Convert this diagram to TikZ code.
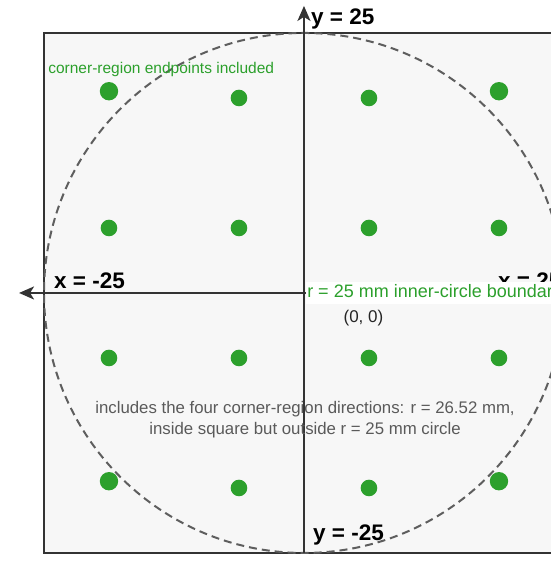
\documentclass[tikz,border=0pt]{standalone}
\usepackage{fontspec}
\setmainfont{Liberation Sans}
\usetikzlibrary{arrows.meta}
\definecolor{ptgreen}{HTML}{2CA02C}
\definecolor{boxfill}{HTML}{F7F7F7}
\definecolor{boxline}{HTML}{333333}
\definecolor{ringgray}{HTML}{5E5E5E}
\definecolor{notegray}{HTML}{5A5A5A}

\begin{document}
\begin{tikzpicture}[x=10.4pt,y=10.4pt,
  endpt/.style={circle,fill=ptgreen,inner sep=0pt,minimum size=16.6pt},
  cornerpt/.style={endpt,minimum size=18.4pt},
  axislabel/.style={anchor=base west,inner sep=0pt,font=\fontsize{22.5}{26}\selectfont\bfseries},
  axisline/.style={boxline,line width=2.2pt,-{Stealth[length=15pt,width=13pt,inset=4pt]}}]
  \useasboundingbox (-29.23,-26.35) rectangle (23.75,28.17);
  \clip (-29.23,-26.35) rectangle (23.75,28.17);

  \draw[boxline,fill=boxfill,line width=2.2pt] (-25,-25) rectangle (25,25);
  \draw[ringgray,dash pattern=on 8pt off 5pt,line width=2pt] (0,0) circle (25);

  \coordinate (ybase) at (0,-25);
  \coordinate (ytip) at (0,27.6);
  \coordinate (xbase) at (25,0);
  \coordinate (xtip) at (-27.4,0);
  \draw[axisline] (ybase) -- (ytip);
  \draw[axisline] (xbase) -- (xtip);

  \foreach \px/\py [count=\i] in {
    -6.25/18.75, 6.25/18.75,
    -18.75/6.25, -6.25/6.25, 6.25/6.25, 18.75/6.25,
    -18.75/-6.25, -6.25/-6.25, 6.25/-6.25, 18.75/-6.25,
    -6.25/-18.75, 6.25/-18.75
  } {
    \node[endpt] (dot\i) at (\px,\py) {};
  }
  \foreach \px/\py [count=\i] in {-18.75/19.4, 18.75/19.4, -18.75/-18.1, 18.75/-18.1} {
    \node[cornerpt] (corner\i) at (\px,\py) {};
  }

  \node[axislabel] (ytop) at (0.67,25.77) {y = 25};
  \node[axislabel] (xleft) at (-24.04,0.385) {x = -25};
  \node[axislabel] (xright) at (18.65,0.385) {x = 25};
  \node[axislabel] (ybottom) at (0.87,-23.8) {y = -25};

  \node[anchor=west,fill=white,text=ptgreen,inner xsep=1pt,inner ysep=2.5pt,
    font=\fontsize{18}{21}\selectfont] (rlabel) at (0.2,0) {r = 25 mm inner-circle boundary};
  \node[text=black!85,font=\fontsize{17}{20}\selectfont] (olabel) at (5.72,-2.4) {(0, 0)};
  \node[anchor=base west,inner sep=0pt,text=ptgreen,font=\fontsize{15.5}{18}\selectfont]
    (cornerlabel) at (-24.6,21.06) {corner-region endpoints included};
  \node[align=center,text=notegray,font=\fontsize{16.8}{21}\selectfont] (note) at (0.1,-12.2)
    {includes the four corner-region directions: r = 26.52 mm,\\inside square but outside r = 25 mm circle};
\end{tikzpicture}
\end{document}
